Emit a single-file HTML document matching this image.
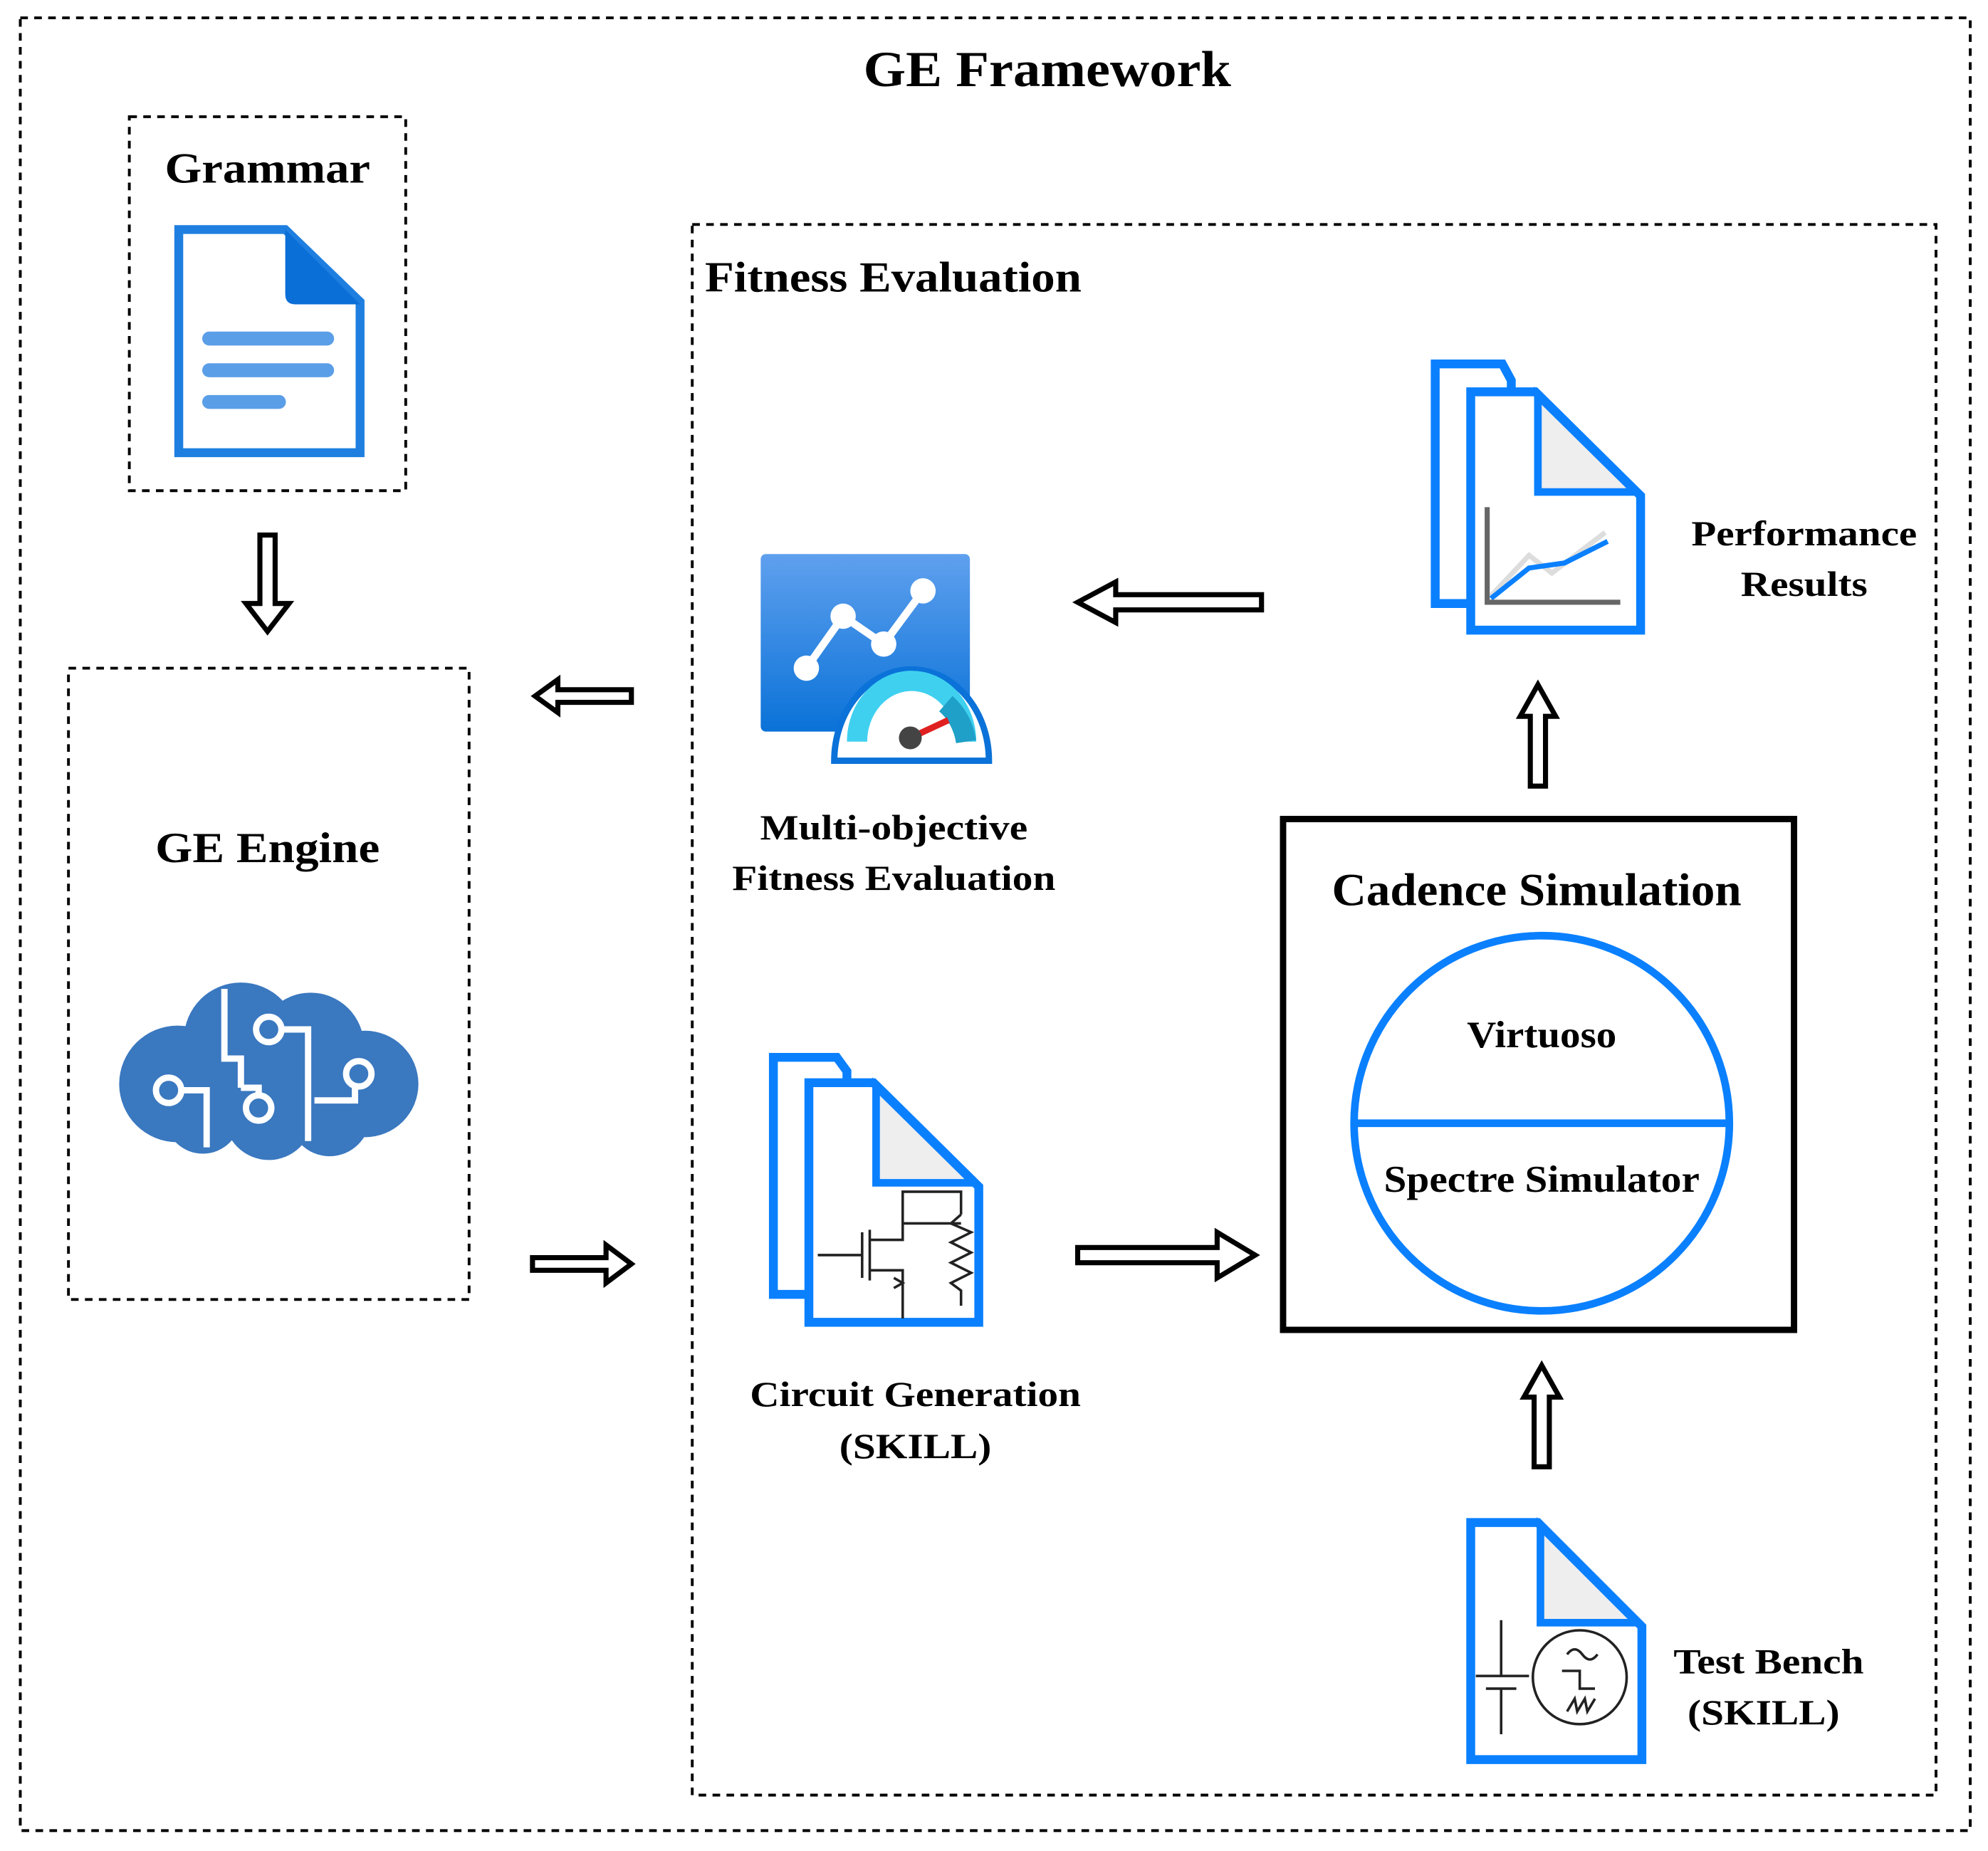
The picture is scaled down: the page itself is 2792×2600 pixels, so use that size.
<!DOCTYPE html>
<html><head><meta charset="utf-8"><style>
html,body{margin:0;padding:0;background:#fff}
svg{display:block}
text{font-family:"Liberation Serif",serif;font-weight:bold;fill:#000}
</style></head><body>
<svg width="2792" height="2600" viewBox="0 0 1568 1460" xmlns="http://www.w3.org/2000/svg">
<defs>
<linearGradient id="g1" x1="0" y1="0" x2="0" y2="1"><stop offset="0" stop-color="#5fa0ee"/><stop offset="1" stop-color="#0a72d8"/></linearGradient>
</defs>
<g fill="none" stroke="#000" stroke-width="2.2" stroke-dasharray="6,5">
<rect x="16" y="14" width="1538" height="1430"/>
<rect x="102" y="92" width="218" height="295"/>
<rect x="54" y="527" width="316" height="498"/>
<rect x="546" y="177" width="981" height="1239"/>
</g>
<text x="826" y="68" font-size="40" text-anchor="middle" textLength="290" lengthAdjust="spacingAndGlyphs">GE Framework</text>
<text x="211" y="144" font-size="34" text-anchor="middle" textLength="162" lengthAdjust="spacingAndGlyphs">Grammar</text>
<text x="211" y="680" font-size="34" text-anchor="middle" textLength="177" lengthAdjust="spacingAndGlyphs">GE Engine</text>
<text x="556" y="230" font-size="34" textLength="297" lengthAdjust="spacingAndGlyphs">Fitness Evaluation</text>

<!-- grammar doc -->
<path d="M141 181 H225 L284 238 V357 H141 Z" fill="#fff" stroke="#1f7fe0" stroke-width="7"/>
<path d="M225 181 V232 Q225 240 233 240 H284 Z" fill="#0a6fd6"/>
<g stroke="#5b9ee8" stroke-width="11" stroke-linecap="round"><line x1="165" y1="267" x2="258" y2="267"/><line x1="165" y1="292" x2="258" y2="292"/><line x1="165" y1="317" x2="220" y2="317"/></g>

<!-- cloud -->
<g fill="#3a78c0">
<circle cx="140" cy="855" r="46"/><circle cx="190" cy="820" r="45"/><circle cx="245" cy="825" r="42"/><circle cx="288" cy="855" r="42"/>
<circle cx="160" cy="880" r="30"/><circle cx="260" cy="880" r="32"/><circle cx="212" cy="880" r="35"/>
</g>
<g fill="none" stroke="#fff" stroke-width="5">
<path d="M177 780 V835 H190 V858"/><circle cx="212" cy="812" r="10"/><path d="M222 812 H243 V900"/>
<circle cx="133" cy="860" r="10"/><path d="M143 860 H163 V905"/><circle cx="204" cy="874" r="10"/><path d="M190 858 H204 V864"/>
<circle cx="283" cy="847" r="10"/><path d="M280 857 V868 H248"/>
</g>

<!-- arrows -->
<g fill="#fff" stroke="#000" stroke-width="4" stroke-linejoin="miter">
<path d="M205 422 H217 V476 H228 L211 498 L194 476 H205 Z"/>
<path d="M498 544 H440 V536 L422 549 L440 562 V554 H498 Z"/>
<path d="M420 992 H478 V982 L498 997 L478 1012 V1002 H420 Z"/>
<path d="M995 469 H880 V459 L850 475 L880 491 V481 H995 Z"/>
<path d="M850 984 H960 V972 L990 990 L960 1008 V996 H850 Z"/>
<path d="M1207 620 V565 H1199 L1213 540 L1227 565 H1219 V620 Z"/>
<path d="M1210 1157 V1102 H1202 L1216 1077 L1230 1102 H1222 V1157 Z"/>
</g>

<!-- multi-objective icon -->
<rect x="600" y="437" width="165" height="140" rx="4" fill="url(#g1)"/>
<polyline points="636,527 665,486 697,508 728,466" fill="none" stroke="#fff" stroke-width="6"/>
<g fill="#fff"><circle cx="636" cy="527" r="10"/><circle cx="665" cy="486" r="10"/><circle cx="697" cy="508" r="10"/><circle cx="728" cy="466" r="10"/></g>
<path d="M658 600 A61 72 0 0 1 780 600 Z" fill="#fff" stroke="#0a72d8" stroke-width="5"/>
<path d="M676 585 A43 48 0 0 1 762 585" fill="none" stroke="#3fd0f0" stroke-width="16"/>
<path d="M746 555 A43 48 0 0 1 762 585" fill="none" stroke="#1fa0c8" stroke-width="16"/>
<line x1="718" y1="582" x2="748" y2="568" stroke="#e02020" stroke-width="5"/>
<circle cx="718" cy="582" r="9" fill="#444"/>
<text x="705" y="662" font-size="28" text-anchor="middle" textLength="211" lengthAdjust="spacingAndGlyphs">Multi-objective</text>
<text x="705" y="702" font-size="28" text-anchor="middle" textLength="255" lengthAdjust="spacingAndGlyphs">Fitness Evaluation</text>

<!-- performance results -->
<path d="M1132 287 H1185 L1192 300 V476 H1132 Z" fill="#fff" stroke="#0a80ff" stroke-width="7"/>
<path d="M1160 309 H1211 L1294 391 V497 H1160 Z" fill="#fff" stroke="#0a80ff" stroke-width="7"/>
<path d="M1213 312 V388 H1290 Z" fill="#eee" stroke="#0a80ff" stroke-width="6"/>
<polyline points="1176,470 1206,438 1224,452 1266,420" fill="none" stroke="#ddd" stroke-width="4"/>
<polyline points="1176,472 1206,448 1234,444 1268,427" fill="none" stroke="#0a80ff" stroke-width="4"/>
<polyline points="1173,400 1173,475 1278,475" fill="none" stroke="#666" stroke-width="4"/>
<text x="1423" y="430" font-size="28" text-anchor="middle" textLength="178" lengthAdjust="spacingAndGlyphs">Performance</text>
<text x="1423" y="470" font-size="28" text-anchor="middle" textLength="100" lengthAdjust="spacingAndGlyphs">Results</text>

<!-- cadence -->
<rect x="1012" y="646" width="403" height="403" fill="none" stroke="#000" stroke-width="5"/>
<text x="1212" y="714" font-size="36" text-anchor="middle" textLength="323" lengthAdjust="spacingAndGlyphs">Cadence Simulation</text>
<circle cx="1216" cy="886" r="148" fill="none" stroke="#0a80ff" stroke-width="6"/>
<line x1="1068" y1="886" x2="1364" y2="886" stroke="#0a80ff" stroke-width="6"/>
<text x="1216" y="826" font-size="30" text-anchor="middle" textLength="118" lengthAdjust="spacingAndGlyphs">Virtuoso</text>
<text x="1216" y="940" font-size="30" text-anchor="middle" textLength="249" lengthAdjust="spacingAndGlyphs">Spectre Simulator</text>

<!-- circuit -->
<path d="M610 834 H660 L668 845 V1021 H610 Z" fill="#fff" stroke="#0a80ff" stroke-width="7"/>
<path d="M638 854 H689 L772 936 V1043 H638 Z" fill="#fff" stroke="#0a80ff" stroke-width="7"/>
<path d="M691 857 V933 H768 Z" fill="#eee" stroke="#0a80ff" stroke-width="6"/>
<g fill="none" stroke="#222" stroke-width="2">
<path d="M645 990 H680 M680 972 V1008 M686 970 V1010 M686 978 H712 V940 H758 V958 M686 1002 H712 V1040 M712 965 H758"/>
<path d="M758 958 L750 965 L766 972 L750 980 L766 988 L750 996 L766 1004 L750 1012 L758 1018 V1030"/>
<path d="M705 1008 L712 1012 L705 1016"/>
</g>
<text x="722" y="1109" font-size="28" text-anchor="middle" textLength="261" lengthAdjust="spacingAndGlyphs">Circuit Generation</text>
<text x="722" y="1150" font-size="28" text-anchor="middle" textLength="120" lengthAdjust="spacingAndGlyphs">(SKILL)</text>

<!-- test bench -->
<path d="M1160 1201 H1213 L1295 1283 V1388 H1160 Z" fill="#fff" stroke="#0a80ff" stroke-width="7"/>
<path d="M1215 1204 V1280 H1291 Z" fill="#eee" stroke="#0a80ff" stroke-width="6"/>
<g fill="none" stroke="#222" stroke-width="2">
<path d="M1184 1278 V1322 M1164 1322 H1206 M1172 1332 H1196 M1184 1332 V1368"/>
<circle cx="1246" cy="1323" r="37"/>
<path d="M1236 1305 Q1242 1297 1248 1305 Q1254 1313 1260 1305"/>
<path d="M1232 1318 H1246 V1332 H1258"/>
<path d="M1236 1350 L1242 1340 L1244 1350 L1250 1340 L1252 1350 L1258 1340"/>
</g>
<text x="1395" y="1320" font-size="28" text-anchor="middle" textLength="150" lengthAdjust="spacingAndGlyphs">Test Bench</text>
<text x="1391" y="1360" font-size="28" text-anchor="middle" textLength="120" lengthAdjust="spacingAndGlyphs">(SKILL)</text>
</svg>
</body></html>
